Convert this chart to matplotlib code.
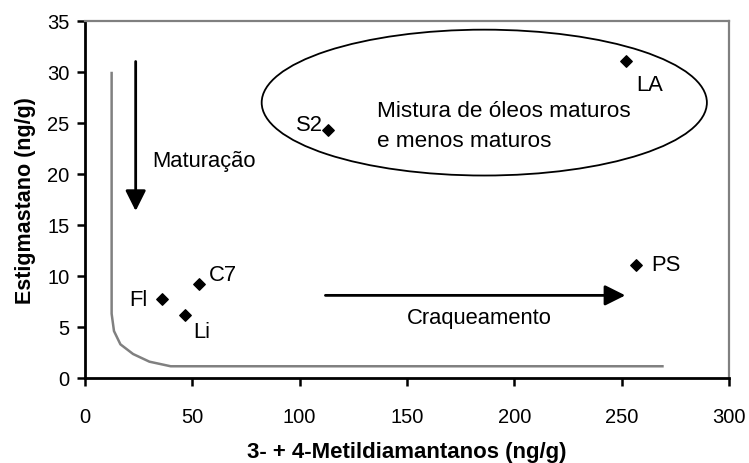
import matplotlib.pyplot as plt
from matplotlib.patches import Ellipse

plt.rcParams['font.family'] = ['Liberation Sans', 'DejaVu Sans']

# amostras
nomes = ['Fl', 'Li', 'C7', 'PS', 'S2', 'LA']
metildiamantanos = [35.7, 46.6, 53.0, 256.5, 113.3, 252.0]
estigmastano = [7.7, 6.2, 9.2, 11.1, 24.3, 31.1]

# curva limite (cinza)
curva_x = [12.4, 12.4, 13.5, 16.5, 22.4, 30.0, 39.9, 269.0]
curva_y = [29.9, 6.3, 4.6, 3.3, 2.35, 1.6, 1.15, 1.15]

# posicoes dos rotulos
rotulo_pos = {'Fl': (29.3, 7.7, 'right'), 'Li': (50.3, 4.6, 'left'),
              'C7': (57.8, 10.1, 'left'), 'PS': (264.0, 11.1, 'left'),
              'S2': (110.8, 24.9, 'right'), 'LA': (256.6, 28.8, 'left')}

fig = plt.figure(figsize=(7.49, 4.64), dpi=100)
ax = fig.add_axes([0.1135, 0.1832, 0.8598, 0.7694])

ax.plot(curva_x, curva_y, color='#808080', lw=1.8)
ax.scatter(metildiamantanos, estigmastano, marker='D', s=34, color='black', zorder=3)

for n in nomes:
    x, y, ha = rotulo_pos[n]
    ax.text(x, y, n, ha=ha, va='center', fontsize=15.8)

ax.add_patch(Ellipse((186, 27), 207.4, 14.3, fill=False, ec='black', lw=1.3))
ax.text(135.8, 26.2, 'Mistura de óleos maturos', va='center', fontsize=16.2)
ax.text(135.8, 23.3, 'e menos maturos', va='center', fontsize=16.2)

# setas
ax.annotate('', xy=(23.6, 16.1), xytext=(23.6, 31.3),
            arrowprops=dict(arrowstyle='-|>', color='black', lw=2, mutation_scale=31))
ax.text(31.5, 21.3, 'Maturação', va='center', fontsize=15.8)
ax.annotate('', xy=(253, 8.1), xytext=(110.7, 8.1),
            arrowprops=dict(arrowstyle='-|>', color='black', lw=2, mutation_scale=31))
ax.text(149.8, 5.9, 'Craqueamento', va='center', fontsize=15.8)

ax.set_xlim(0, 300)
ax.set_ylim(0, 35)
ax.set_xticks(range(0, 301, 50))
ax.set_yticks(range(0, 36, 5))
ax.tick_params(direction='out', length=6, width=1.8, labelsize=14.5, colors='black')
ax.tick_params(axis='x', pad=15)
ax.tick_params(axis='y', pad=5)
for s in ['left', 'bottom']:
    ax.spines[s].set_linewidth(2)
for s in ['top', 'right']:
    ax.spines[s].set_color('#808080')
    ax.spines[s].set_linewidth(1.6)

ax.set_xlabel('3- + 4-Metildiamantanos (ng/g)', fontweight='bold', fontsize=16, labelpad=11)
ax.set_ylabel('Estigmastano (ng/g)', fontweight='bold', fontsize=15.5, labelpad=8)

fig.savefig('out.png', dpi=100)
